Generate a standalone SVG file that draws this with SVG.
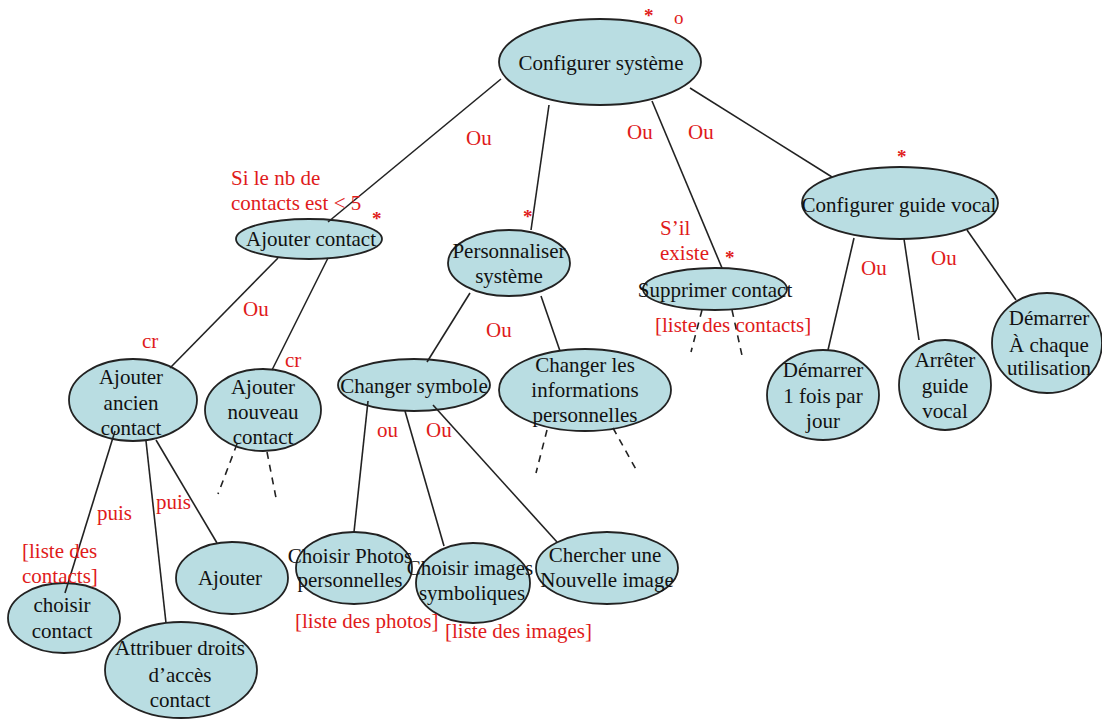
<svg xmlns="http://www.w3.org/2000/svg" width="1102" height="721" viewBox="0 0 1102 721">
<style>
.n ellipse{fill:#b9dde2;stroke:#222;stroke-width:1.8}
.t{font-family:"Liberation Serif","Times New Roman",serif;font-size:21px;fill:#111;text-anchor:middle}
.r{font-family:"Liberation Serif","Times New Roman",serif;font-size:21px;fill:#e01b1b}
.s{font-family:"Liberation Serif","Times New Roman",serif;font-size:19px;fill:#e01b1b;font-weight:bold}
.c line{stroke:#222;stroke-width:1.6}
.c .d{stroke-dasharray:7 6}
</style>
<rect width="1102" height="721" fill="#fff"/>
<g id="root" class="n"><ellipse cx="600" cy="62" rx="101" ry="43"/><text class="t" x="601" y="70">Configurer système</text></g>
<g id="ajouter-contact" class="n"><ellipse cx="309" cy="239" rx="73" ry="20"/><text class="t" x="311" y="246">Ajouter contact</text></g>
<g id="personnaliser" class="n"><ellipse cx="509" cy="263" rx="61" ry="33"/><text class="t" x="509" y="258">Personnaliser</text><text class="t" x="509" y="283">système</text></g>
<g id="supprimer" class="n"><ellipse cx="715" cy="289" rx="72" ry="21"/><text class="t" x="715" y="297">Supprimer contact</text></g>
<g id="guide-vocal" class="n"><ellipse cx="900" cy="203" rx="98" ry="36"/><text class="t" x="899" y="212">Configurer guide vocal</text></g>
<g id="ajouter-ancien" class="n"><ellipse cx="133" cy="400" rx="64" ry="41"/><text class="t" x="131" y="384">Ajouter</text><text class="t" x="131" y="410">ancien</text><text class="t" x="131" y="435">contact</text></g>
<g id="ajouter-nouveau" class="n"><ellipse cx="263" cy="410" rx="58" ry="41"/><text class="t" x="263" y="394">Ajouter</text><text class="t" x="263" y="419">nouveau</text><text class="t" x="263" y="444">contact</text></g>
<g id="choisir-contact" class="n"><ellipse cx="64" cy="618" rx="56" ry="35"/><text class="t" x="62" y="612">choisir</text><text class="t" x="62" y="638">contact</text></g>
<g id="attribuer" class="n"><ellipse cx="181" cy="670" rx="76" ry="48"/><text class="t" x="180" y="655">Attribuer droits</text><text class="t" x="180" y="682">d’accès</text><text class="t" x="180" y="707">contact</text></g>
<g id="ajouter" class="n"><ellipse cx="232" cy="578" rx="56" ry="36"/><text class="t" x="230" y="585">Ajouter</text></g>
<g id="changer-symbole" class="n"><ellipse cx="414" cy="385" rx="76" ry="26"/><text class="t" x="414" y="393">Changer symbole</text></g>
<g id="changer-infos" class="n"><ellipse cx="585" cy="390" rx="86" ry="41"/><text class="t" x="585" y="372">Changer les</text><text class="t" x="585" y="397">informations</text><text class="t" x="585" y="422">personnelles</text></g>
<g id="choisir-photos" class="n"><ellipse cx="354" cy="568" rx="58" ry="36"/><text class="t" x="350" y="563">Choisir Photos</text><text class="t" x="350" y="587">personnelles</text></g>
<g id="choisir-images" class="n"><ellipse cx="473" cy="583" rx="57" ry="40"/><text class="t" x="470" y="575">Choisir images</text><text class="t" x="472" y="600">symboliques</text></g>
<g id="chercher-image" class="n"><ellipse cx="607" cy="568" rx="71" ry="36"/><text class="t" x="605" y="562">Chercher une</text><text class="t" x="607" y="587">Nouvelle image</text></g>
<g id="demarrer-jour" class="n"><ellipse cx="823" cy="395" rx="56" ry="45"/><text class="t" x="823" y="377">Démarrer</text><text class="t" x="823" y="403">1 fois par</text><text class="t" x="823" y="428">jour</text></g>
<g id="arreter" class="n"><ellipse cx="945" cy="385" rx="46" ry="45"/><text class="t" x="945" y="367">Arrêter</text><text class="t" x="945" y="393">guide</text><text class="t" x="945" y="418">vocal</text></g>
<g id="demarrer-chaque" class="n"><ellipse cx="1047" cy="343" rx="55" ry="50"/><text class="t" x="1049" y="325">Démarrer</text><text class="t" x="1049" y="352">À chaque</text><text class="t" x="1049" y="375">utilisation</text></g>
<g id="connectors" class="c">
<line x1="501" y1="79" x2="328" y2="222"/>
<line x1="549" y1="105" x2="531" y2="230"/>
<line x1="652" y1="101" x2="722" y2="268"/>
<line x1="690" y1="88" x2="832" y2="177"/>
<line x1="278" y1="258" x2="170" y2="368"/>
<line x1="328" y1="258" x2="272" y2="370"/>
<line x1="115" y1="431" x2="65" y2="593"/>
<line x1="146" y1="441" x2="166" y2="623"/>
<line x1="156" y1="440" x2="217" y2="543"/>
<line class="d" x1="237" y1="444" x2="218" y2="494"/>
<line class="d" x1="267" y1="452" x2="277" y2="503"/>
<line x1="470" y1="293" x2="427" y2="362"/>
<line x1="541" y1="296" x2="560" y2="351"/>
<line class="d" x1="547" y1="430" x2="536" y2="473"/>
<line class="d" x1="613" y1="428" x2="638" y2="473"/>
<line x1="368" y1="401" x2="354" y2="532"/>
<line x1="405" y1="411" x2="444" y2="546"/>
<line x1="433" y1="405" x2="557" y2="542"/>
<line class="d" x1="702" y1="310" x2="691" y2="352"/>
<line class="d" x1="732" y1="310" x2="743" y2="360"/>
<line x1="854" y1="238" x2="828" y2="350"/>
<line x1="904" y1="239" x2="919" y2="340"/>
<line x1="967" y1="230" x2="1016" y2="300"/>
</g>
<g id="labels">
<text class="s" x="644" y="22">*</text>
<text class="r" x="674" y="24" style="font-size:19px">o</text>
<text class="r" x="466" y="145">Ou</text>
<text class="r" x="627" y="139">Ou</text>
<text class="r" x="688" y="139">Ou</text>
<text class="r" x="231" y="185">Si le nb de</text>
<text class="r" x="231" y="210">contacts est &lt; 5</text>
<text class="s" x="372" y="225">*</text>
<text class="s" x="523" y="223">*</text>
<text class="r" x="660" y="235">S’il</text>
<text class="r" x="660" y="260">existe</text>
<text class="s" x="725" y="264">*</text>
<text class="r" x="655" y="332">[liste des contacts]</text>
<text class="s" x="897" y="163">*</text>
<text class="r" x="243" y="316">Ou</text>
<text class="r" x="142" y="348">cr</text>
<text class="r" x="285" y="367">cr</text>
<text class="r" x="97" y="520">puis</text>
<text class="r" x="156" y="509">puis</text>
<text class="r" x="22" y="558">[liste des</text>
<text class="r" x="22" y="583">contacts]</text>
<text class="r" x="486" y="337">Ou</text>
<text class="r" x="377" y="437">ou</text>
<text class="r" x="426" y="437">Ou</text>
<text class="r" x="295" y="628">[liste des photos]</text>
<text class="r" x="445" y="638">[liste des images]</text>
<text class="r" x="861" y="275">Ou</text>
<text class="r" x="931" y="265">Ou</text>
</g>
</svg>
